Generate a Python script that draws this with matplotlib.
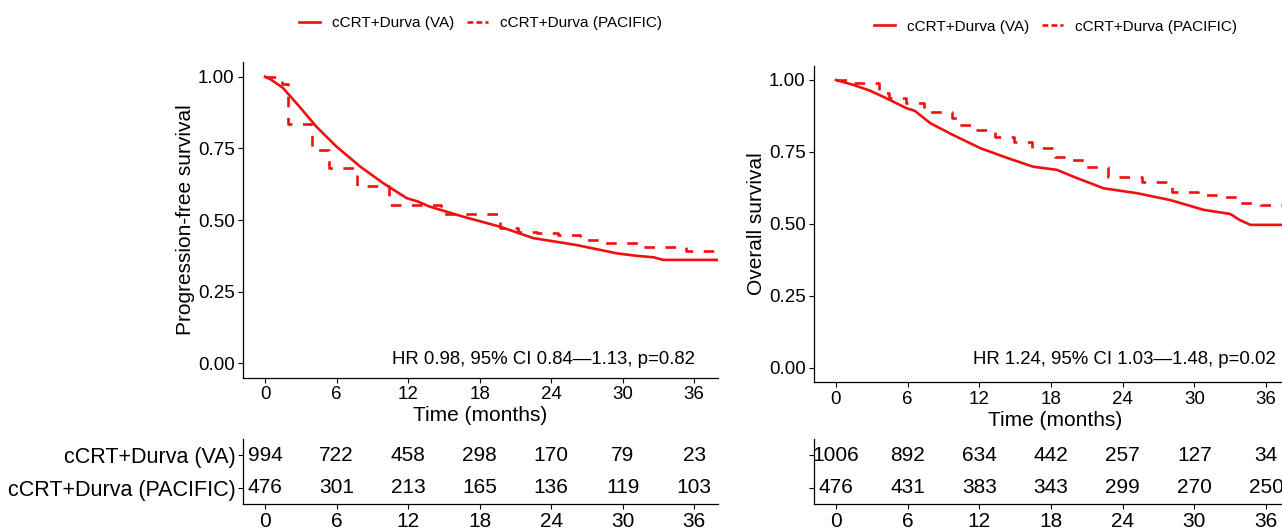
import numpy as np
import matplotlib
matplotlib.use("Agg")
import matplotlib.pyplot as plt
from matplotlib.lines import Line2D

plt.rcParams["font.family"] = ["Liberation Sans", "DejaVu Sans"]

# data

# progression-free survival
pfs_va_t = [0, 0.5, 1.5, 2.9, 4.3, 6.0, 8.0, 9.9, 11.9, 12.8, 13.8, 16.6, 19.7, 22.5, 26.1, 29.5, 31.0, 32.6, 33.4, 38.0]
pfs_va_s = [1.0, 0.99, 0.961, 0.895, 0.826, 0.756, 0.686, 0.629, 0.576, 0.565, 0.547, 0.512, 0.477, 0.437, 0.413, 0.384, 0.376, 0.370, 0.361, 0.361]
pfs_pac_t = [0, 1.4, 1.9, 3.9, 5.4, 7.7, 10.4, 14.8, 19.7, 21.2, 22.8, 24.6, 26.4, 28.0, 31.5, 35.3, 38.0]
pfs_pac_s = [1.0, 0.975, 0.836, 0.744, 0.680, 0.619, 0.552, 0.520, 0.471, 0.459, 0.454, 0.448, 0.430, 0.421, 0.407, 0.393, 0.393]

# overall survival
os_va_t = [0, 1.45, 2.85, 4.25, 5.9, 6.6, 7.9, 9.8, 12.1, 14.3, 16.5, 18.5, 19.9, 22.4, 25.2, 28.0, 30.8, 33.0, 33.8, 34.7, 38.6]
os_va_s = [1.0, 0.983, 0.963, 0.936, 0.902, 0.893, 0.850, 0.809, 0.763, 0.730, 0.699, 0.688, 0.664, 0.624, 0.607, 0.583, 0.549, 0.535, 0.514, 0.497, 0.497]
os_pac_t = [0, 1.5, 3.6, 4.4, 5.9, 7.4, 9.7, 10.2, 11.7, 13.3, 14.9, 16.4, 18.3, 19.5, 20.9, 22.8, 25.6, 28.1, 30.3, 32.1, 33.7, 35.5, 38.6]
os_pac_s = [1.0, 0.989, 0.954, 0.936, 0.921, 0.890, 0.867, 0.844, 0.826, 0.803, 0.786, 0.763, 0.731, 0.722, 0.697, 0.664, 0.647, 0.612, 0.601, 0.595, 0.574, 0.566, 0.566]

# numbers at risk
risk_times = [0, 6, 12, 18, 24, 30, 36]
pfs_risk_va = [994, 722, 458, 298, 170, 79, 23]
pfs_risk_pac = [476, 301, 213, 165, 136, 119, 103]
os_risk_va = [1006, 892, 634, 442, 257, 127, 34]
os_risk_pac = [476, 431, 383, 343, 299, 270, 250]

group_labels = ["cCRT+Durva (VA)", "cCRT+Durva (PACIFIC)"]
y_ticks = [0, 0.25, 0.5, 0.75, 1.0]
y_ticklabels = ["0.00", "0.25", "0.50", "0.75", "1.00"]

RED = "#f01010"
W, H = 1282, 530

fig = plt.figure(figsize=(W / 100, H / 100), dpi=100)


def px_axes(x0, y0, x1, y1):
    return fig.add_axes([x0 / W, 1 - y1 / H, (x1 - x0) / W, (y1 - y0) / H])


def style(ax, lsize):
    for s in ["top", "right"]:
        ax.spines[s].set_visible(False)
    for s in ["left", "bottom"]:
        ax.spines[s].set_linewidth(0.9)
    ax.tick_params(length=3.6, width=0.8, labelsize=lsize, colors="black", pad=2.5)


def km_panel(box, xlim, va_t, va_s, pac_t, pac_s, ylabel, hr_text, hr_x, hr_y, leg_y):
    ax = px_axes(*box)
    ax.plot(va_t, va_s, color=RED, lw=1.9, solid_joinstyle="round")
    ax.step(pac_t, pac_s, where="post", color=RED, lw=1.9, linestyle=(0, (4, 4)))
    ax.set_xlim(*xlim)
    ax.set_ylim(-0.05, 1.05)
    ax.set_xticks(risk_times)
    ax.set_yticks(y_ticks)
    ax.set_yticklabels(y_ticklabels)
    style(ax, 13.5)
    ax.set_xlabel("Time (months)", fontsize=15, labelpad=2)
    ax.set_ylabel(ylabel, fontsize=15, labelpad=2)
    ax.text(hr_x, hr_y, hr_text, ha="right", va="center", fontsize=13.4)
    handles = [Line2D([], [], color=RED, lw=1.9),
               Line2D([], [], color=RED, lw=1.9, linestyle=(0, (2.2, 1.2)))]
    ax.legend(handles, group_labels, loc="center", bbox_to_anchor=(0.5, leg_y), ncol=2,
              frameon=False, fontsize=11, handlelength=1.4, handletextpad=0.8,
              columnspacing=0.8)
    return ax


def risk_table(box, xlim, va, pac, show_labels):
    ax = px_axes(*box)
    for t, a, b in zip(risk_times, va, pac):
        ax.text(t, 2, str(a), ha="center", va="center", fontsize=15)
        ax.text(t, 1, str(b), ha="center", va="center", fontsize=15)
    ax.set_xlim(*xlim)
    ax.set_ylim(0.5, 2.5)
    ax.set_xticks(risk_times)
    ax.set_yticks([2, 1])
    ax.set_yticklabels(group_labels if show_labels else ["", ""])
    style(ax, 15)
    ax.tick_params(axis="y", labelsize=15.5, pad=1.5)
    return ax


km_panel((243, 62.4, 718, 377.7), (-1.85, 38.0), pfs_va_t, pfs_va_s, pfs_pac_t, pfs_pac_s,
         "Progression-free survival", "HR 0.98, 95% CI 0.84\u20141.13, p=0.82", 36.1, 0.015, 1.125)
km_panel((814, 65.6, 1297, 382.4), (-1.84, 38.6), os_va_t, os_va_s, os_pac_t, os_pac_s,
         "Overall survival", "HR 1.24, 95% CI 1.03\u20141.48, p=0.02", 36.8, 0.028, 1.123)

risk_table((243, 439, 718, 504), (-1.85, 38.0), pfs_risk_va, pfs_risk_pac, True)
risk_table((814, 439, 1297, 504), (-1.84, 38.6), os_risk_va, os_risk_pac, False)

fig.savefig("out.png", dpi=100)
